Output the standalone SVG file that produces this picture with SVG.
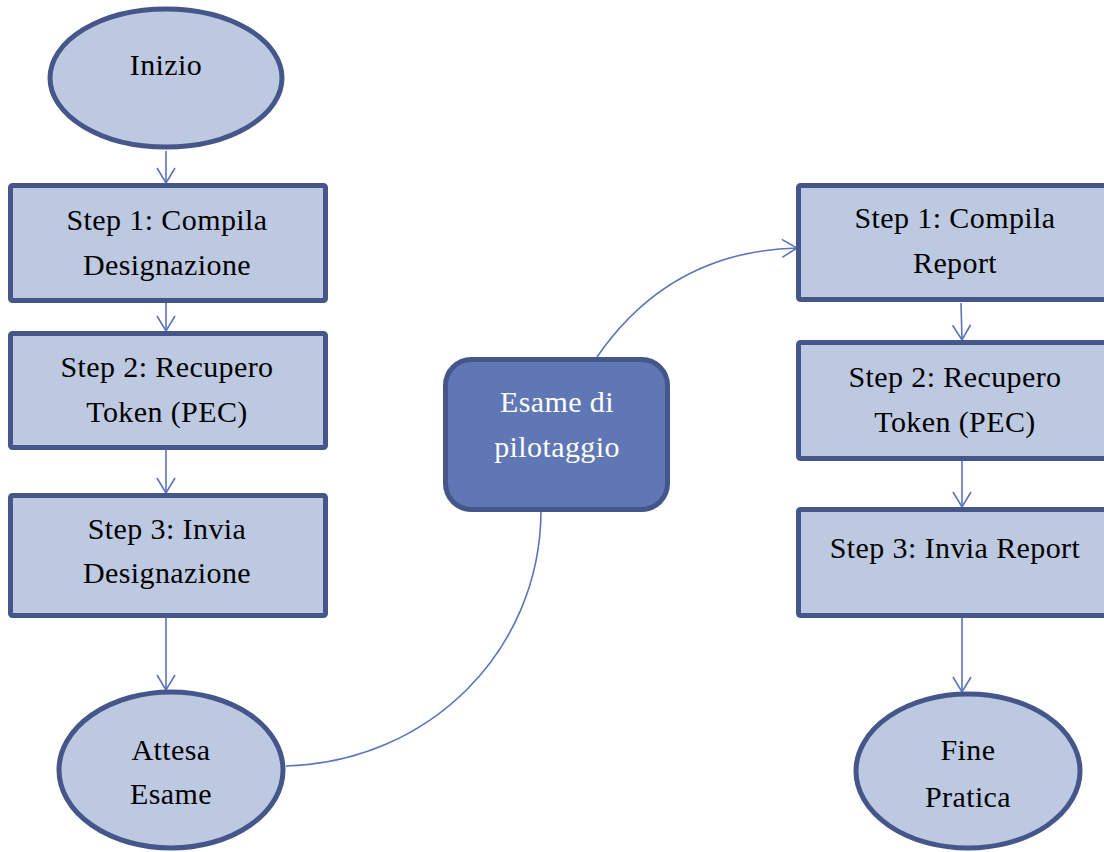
<svg xmlns="http://www.w3.org/2000/svg" width="1104" height="852" viewBox="0 0 1104 852">
<defs>
<marker id="arr" markerUnits="userSpaceOnUse" viewBox="-17 -11 19 22" refX="0" refY="0" markerWidth="19" markerHeight="22" orient="auto" overflow="visible">
<path d="M-15,-9 L0,0 L-15,9" fill="none" stroke="#5B74B8" stroke-width="1.6"/>
</marker>
</defs>
<style>
.n{fill:#BDC8E1;stroke:#44568A;stroke-width:5}
.c{fill:#5F77B5;stroke:#44568A;stroke-width:5}
.t{font-family:"Liberation Serif","Times New Roman",serif;font-size:30px;fill:#000;text-anchor:middle;letter-spacing:0.4px}
.w{fill:#fff}
.e{fill:none;stroke:#5B74B8;stroke-width:1.6}
</style>
<rect width="1104" height="852" fill="#fff"/>
<g id="connectors">
<line class="e" x1="166" y1="151" x2="166" y2="183" marker-end="url(#arr)"/>
<line class="e" x1="166" y1="303" x2="166" y2="331" marker-end="url(#arr)"/>
<line class="e" x1="166" y1="450" x2="166" y2="493" marker-end="url(#arr)"/>
<line class="e" x1="166" y1="618" x2="166" y2="690" marker-end="url(#arr)"/>
<path class="e" d="M286,766 C430,762 540,650 541,512"/>
<path class="e" d="M597,357 C650,280 720,250 797,248" marker-end="url(#arr)"/>
<line class="e" x1="961" y1="303" x2="962" y2="340" marker-end="url(#arr)"/>
<line class="e" x1="962" y1="461" x2="962" y2="507" marker-end="url(#arr)"/>
<line class="e" x1="962" y1="618" x2="962" y2="692" marker-end="url(#arr)"/>
</g>
<g id="inizio">
<ellipse class="n" cx="166" cy="78" rx="116" ry="69"/>
<text class="t" x="166" y="75">Inizio</text>
</g>
<g id="l-step1">
<rect class="n" x="10.5" y="185.5" width="315" height="115" rx="2"/>
<text class="t" x="167" y="230">Step 1: Compila</text>
<text class="t" x="167" y="275">Designazione</text>
</g>
<g id="l-step2">
<rect class="n" x="10.5" y="333.5" width="315" height="114" rx="2"/>
<text class="t" x="167" y="377">Step 2: Recupero</text>
<text class="t" x="167" y="422">Token (PEC)</text>
</g>
<g id="l-step3">
<rect class="n" x="10.5" y="495.5" width="315" height="120" rx="2"/>
<text class="t" x="167" y="539">Step 3: Invia</text>
<text class="t" x="167" y="583">Designazione</text>
</g>
<g id="attesa">
<ellipse class="n" cx="171" cy="770" rx="112" ry="78"/>
<text class="t" x="171" y="760">Attesa</text>
<text class="t" x="171" y="804">Esame</text>
</g>
<g id="esame">
<rect class="c" x="445.5" y="359.5" width="222" height="150" rx="26"/>
<text class="t w" x="557" y="412">Esame di</text>
<text class="t w" x="557" y="457">pilotaggio</text>
</g>
<g id="r-step1">
<rect class="n" x="798.5" y="185.5" width="318" height="114" rx="2"/>
<text class="t" x="955" y="228">Step 1: Compila</text>
<text class="t" x="955" y="273">Report</text>
</g>
<g id="r-step2">
<rect class="n" x="798.5" y="342.5" width="318" height="116" rx="2"/>
<text class="t" x="955" y="387">Step 2: Recupero</text>
<text class="t" x="955" y="432">Token (PEC)</text>
</g>
<g id="r-step3">
<rect class="n" x="798.5" y="509.5" width="318" height="106" rx="2"/>
<text class="t" x="955" y="558">Step 3: Invia Report</text>
</g>
<g id="fine">
<ellipse class="n" cx="968" cy="771" rx="112" ry="77"/>
<text class="t" x="968" y="760">Fine</text>
<text class="t" x="968" y="807">Pratica</text>
</g>
</svg>
